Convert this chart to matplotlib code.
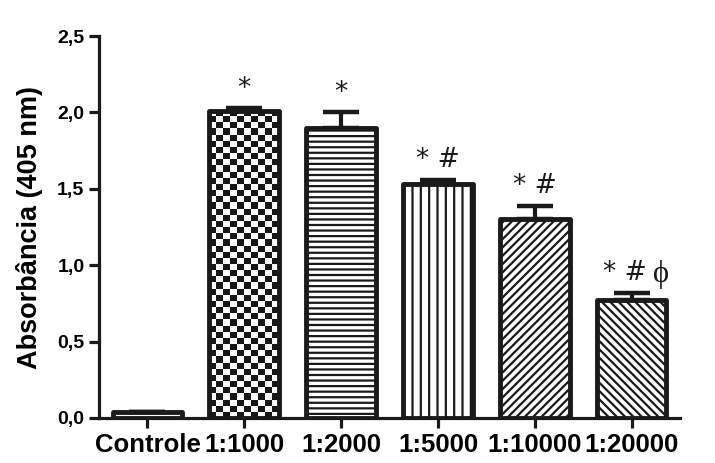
import numpy as np
import matplotlib
matplotlib.use("Agg")
import matplotlib.pyplot as plt

groups = ["Controle", "1:1000", "1:2000", "1:5000", "1:10000", "1:20000"]
means = [0.04, 2.01, 1.90, 1.53, 1.30, 0.77]
errs = [0.0, 0.02, 0.10, 0.03, 0.09, 0.05]
hatches = ["--", None, "---", "||", "////", "\\\\\\\\"]
marks = ["", "*", "*", "* #", "* #", "* #"]

plt.rcParams["font.family"] = ["Liberation Sans", "DejaVu Sans"]
plt.rcParams["hatch.linewidth"] = 1.6
plt.rcParams["hatch.color"] = "#1a1a1a"

fig = plt.figure(figsize=(7.15, 4.63), dpi=100)
ax = fig.add_axes([0.1385, 0.0972, 0.8126, 0.825])

x = np.arange(len(groups))
w = 0.72
bars = ax.bar(x, means, width=w, color="white", edgecolor="#1a1a1a",
              linewidth=3.5, zorder=3)
for b, h in zip(bars, hatches):
    b.set_joinstyle("round")
    if h:
        b.set_hatch(h)

# checkerboard fill for 1:1000
b = bars[1]
b.set_facecolor("none")
nx, ny = 10, 50
checker = (np.add.outer(np.arange(ny), np.arange(nx)) % 2).astype(float)
im = ax.imshow(checker, cmap="gray_r", vmin=0, vmax=1.1, interpolation="nearest",
               extent=[b.get_x(), b.get_x() + b.get_width(), 0, b.get_height()],
               aspect="auto", zorder=2.5)
im.set_clip_path(b)

ax.errorbar(x, means, yerr=[np.zeros(len(errs)), errs], fmt="none",
            ecolor="#1a1a1a", elinewidth=3, capsize=13, capthick=3.2, zorder=4)

for i, (m, e, t) in enumerate(zip(means, errs, marks)):
    if t:
        dx = -0.07 if i == 5 else 0
        ax.text(x[i] + dx, m + e + 0.08, t, ha="center", va="baseline",
                fontsize=19, family=["DejaVu Sans"], color="#1a1a1a")
ax.text(x[5] + 0.30, means[5] + errs[5] + 0.07, "ϕ", ha="center", va="baseline",
        fontsize=22, family=["Liberation Serif", "DejaVu Serif"], color="#1a1a1a")

ax.set_xlim(-0.5, 5.5)
ax.set_ylim(0, 2.5)
ax.set_yticks([0, 0.5, 1.0, 1.5, 2.0, 2.5])
ax.set_yticklabels(["0,0", "0,5", "1,0", "1,5", "2,0", "2,5"])
ax.set_xticks(x)
ax.set_xticklabels(groups)
for lab in ax.get_yticklabels():
    lab.set_fontsize(14)
    lab.set_fontweight("bold")
for lab in ax.get_xticklabels():
    lab.set_fontsize(18.5)
    lab.set_fontweight("bold")
ax.set_ylabel("Absorbância (405 nm)", fontsize=19.5, fontweight="bold", labelpad=10)

for s in ["top", "right"]:
    ax.spines[s].set_visible(False)
for s in ["left", "bottom"]:
    ax.spines[s].set_linewidth(2.3)
    ax.spines[s].set_color("#1a1a1a")
ax.tick_params(axis="both", direction="out", width=2.3, length=7, color="#1a1a1a")
ax.tick_params(axis="x", pad=4)

fig.savefig("out.png", dpi=100)
